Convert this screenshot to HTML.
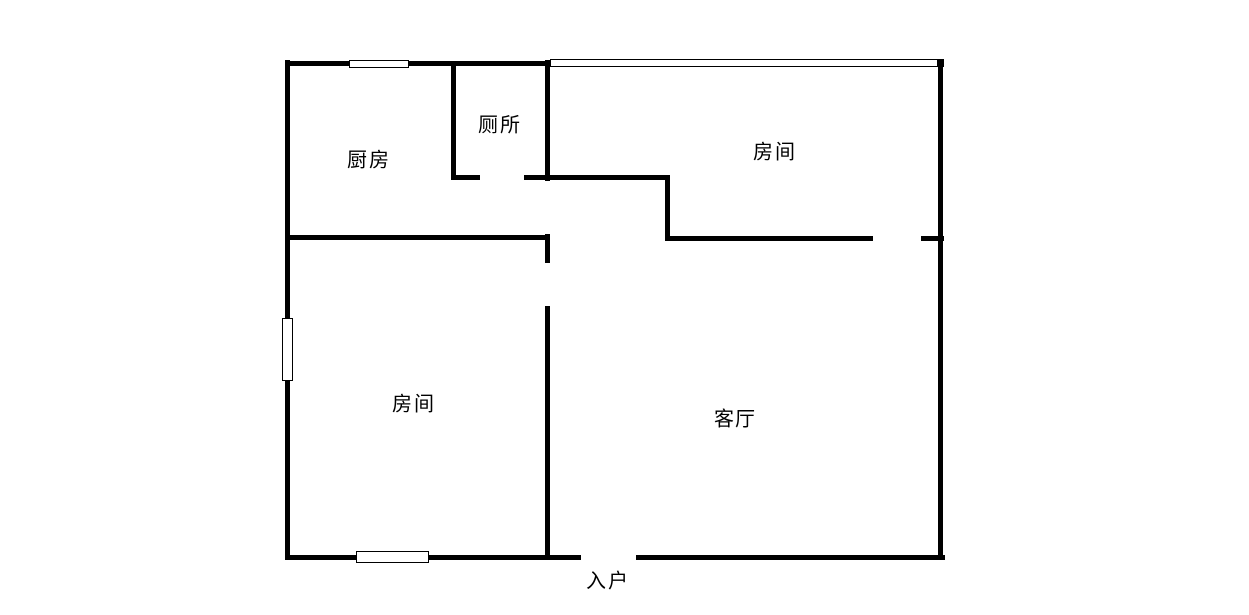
<!DOCTYPE html>
<html lang="zh">
<head>
<meta charset="utf-8">
<style>
html,body{margin:0;padding:0;background:#fff;width:1249px;height:615px;overflow:hidden}
svg{display:block}
text{font-family:"Liberation Sans","Noto Sans CJK SC",sans-serif;font-size:20px;fill:#000;font-weight:400}
</style>
</head>
<body>
<svg width="1249" height="615" viewBox="0 0 1249 615" xmlns="http://www.w3.org/2000/svg">
<rect width="1249" height="615" fill="#fff"/>
<g fill="#000">
<rect x="285" y="60" width="5" height="500"/>
<rect x="285" y="61" width="265" height="5"/>
<rect x="451" y="61" width="5" height="118"/>
<rect x="451" y="175" width="29" height="5"/>
<rect x="524" y="175" width="146" height="5"/>
<rect x="545" y="60" width="5" height="121"/>
<rect x="285" y="235" width="265" height="5"/>
<rect x="545" y="234" width="5" height="29"/>
<rect x="545" y="306" width="5" height="250"/>
<rect x="665" y="176" width="5" height="65"/>
<rect x="665" y="236" width="208" height="5"/>
<rect x="921" y="236" width="23" height="5"/>
<rect x="938" y="59" width="5" height="501"/>
<rect x="937" y="59" width="7" height="8"/>
<rect x="285" y="555" width="296" height="5"/>
<rect x="636" y="555" width="309" height="5"/>
</g>
<g fill="#fff" stroke="#000" stroke-width="1">
<rect x="349.5" y="60.5" width="59" height="7"/>
<rect x="550.5" y="59.5" width="387" height="7"/>
<rect x="282.5" y="318.5" width="10" height="62"/>
<rect x="356.5" y="551.5" width="72" height="11"/>
</g>
<text x="347" y="166.5" textLength="42" lengthAdjust="spacing">厨房</text>
<text x="478" y="131.5" textLength="42" lengthAdjust="spacing">厕所</text>
<text x="753" y="158.5" textLength="42" lengthAdjust="spacing">房间</text>
<text x="392" y="410.5" textLength="42" lengthAdjust="spacing">房间</text>
<text x="714" y="425.5" textLength="41" lengthAdjust="spacing">客厅</text>
<text x="586" y="587.5" textLength="42" lengthAdjust="spacing">入户</text>
</svg>
</body>
</html>
